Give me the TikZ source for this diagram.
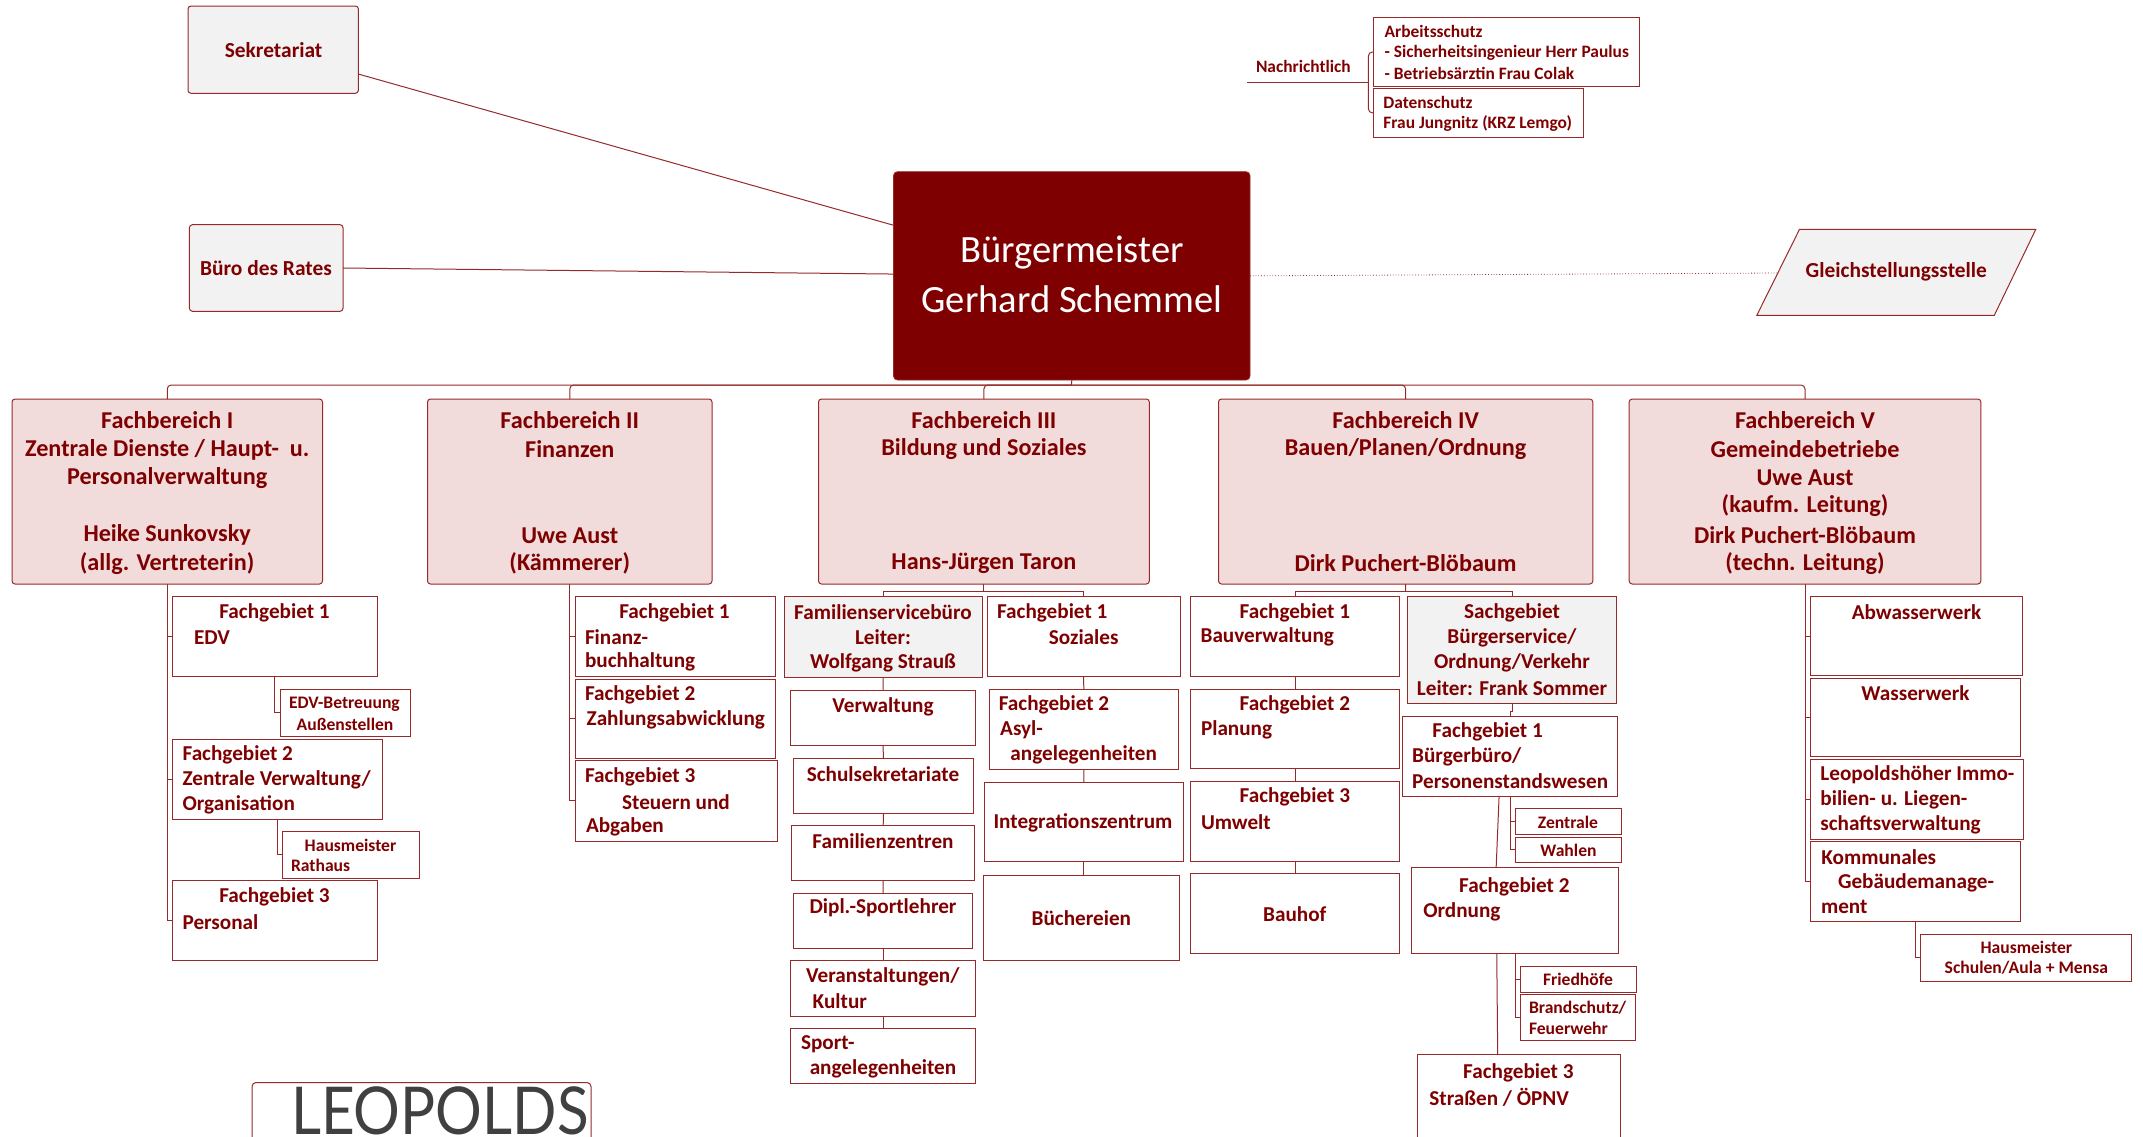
\documentclass[tikz,border=0pt]{standalone}
\usepackage{fontspec}
\setmainfont{Carlito}
\newfontfamily\logofont{Lato}
\usetikzlibrary{shapes.geometric,calc}
\definecolor{dred}{HTML}{7F0000}
\definecolor{edge}{HTML}{962A2A}
\definecolor{pinkfill}{HTML}{F2DCDB}
\definecolor{grayfill}{HTML}{F2F2F2}
\newlength\bw \newlength\bh \newlength\tdx \newlength\tdy
\newcommand{\bx}[7]{%
  \def\bxa{#3}\def\bxb{#6}%
  \pgfmathsetlength\bw{(#5-#3)*0.5pt}\pgfmathsetlength\bh{(#6-#4)*0.5pt}%
  \node[#1,anchor=north west,inner sep=0pt,outer sep=0pt] (#2) at (#3,#4)
    {\hbox to \bw{\vrule width 0pt height \bh\relax #7\hss}};}
\newcommand{\atc}[3]{\pgfmathsetlength\tdx{(#1-\bxa)*0.5pt}\pgfmathsetlength\tdy{(\bxb-#2)*0.5pt}%
  \rlap{\hspace*{\tdx}\raisebox{\tdy}[0pt][0pt]{\makebox[0pt][c]{#3}}}}
\newcommand{\atl}[3]{\pgfmathsetlength\tdx{(#1-\bxa)*0.5pt}\pgfmathsetlength\tdy{(\bxb-#2)*0.5pt}%
  \rlap{\hspace*{\tdx}\raisebox{\tdy}[0pt][0pt]{#3}}}
\tikzset{
  x=0.5pt,y=-0.5pt,
  boxbase/.style={draw=edge,line width=0.5pt,text=dred},
  fbbox/.style={boxbase,fill=pinkfill,rounded corners=1.5pt,font=\fontsize{12.1}{14}\selectfont\bfseries},
  fgbox/.style={boxbase,fill=white,font=\fontsize{10.6}{13}\selectfont\bfseries},
  graybox/.style={boxbase,fill=grayfill,font=\fontsize{10.6}{13}\selectfont\bfseries},
  smallbox/.style={boxbase,fill=white,font=\fontsize{8.8}{11}\selectfont\bfseries},
  notebox/.style={boxbase,fill=white,font=\fontsize{8.7}{11}\selectfont\bfseries},
  topbox/.style={boxbase,fill=grayfill,rounded corners=1.5pt,font=\fontsize{10.7}{12}\selectfont\bfseries},
  chief/.style={draw=edge,fill=dred,rounded corners=2pt,text=white,font=\fontsize{19.3}{22}\selectfont},
  conn/.style={draw=edge,line width=0.5pt},
  thinconn/.style={draw=edge,line width=0.4pt,densely dotted},
  roundconn/.style={conn,rounded corners=2pt},
}
\begin{document}
\begin{tikzpicture}
\useasboundingbox (0,0) rectangle (2143,1136);
\clip (0,0) rectangle (2143,1136);
% top
\bx{chief}{bgm}{893.5}{171.7}{1250}{380}{\atc{1072}{262.5}{Bürgermeister}\atc{1072}{312.5}{Gerhard Schemmel}}
\bx{topbox}{sek}{188}{6}{358.4}{93.3}{\atc{273.6}{57}{Sekretariat}}
\bx{topbox}{bur}{189.4}{224.7}{343}{311.3}{\atc{266}{275.7}{Büro des Rates}}
\coordinate (gtl) at (1799.5,229.3);
\coordinate (gtr) at (2035.8,229.3);
\coordinate (gbr) at (1994.3,315.3);
\coordinate (gbl) at (1756.8,315.3);
\coordinate (gleft) at (1777,273);
\draw[boxbase,fill=grayfill] (gtl) -- (gtr) -- (gbr) -- (gbl) -- cycle;
\node[text=dred,anchor=base,inner sep=0pt,font=\fontsize{10.7}{12}\selectfont\bfseries] (gle) at (1896.3,277.5) {Gleichstellungsstelle};
\node[text=dred,anchor=base,inner sep=0pt,font=\fontsize{8.7}{11}\selectfont\bfseries] (nach) at (1303.4,72.7) {Nachrichtlich};
\bx{notebox}{arb}{1373.8}{17.3}{1639.6}{86.7}{\atl{1384.6}{37.7}{Arbeitsschutz}\atl{1384.6}{57.7}{- Sicherheitsingenieur Herr Paulus}\atl{1384.6}{79.5}{- Betriebsärztin Frau Colak}}
\bx{notebox}{dat}{1373.8}{88.7}{1583}{137}{\atl{1383.4}{108.8}{Datenschutz}\atl{1383.4}{128.8}{Frau Jungnitz (KRZ Lemgo)}}
\coordinate (nfree) at (1247,82.3);
\coordinate (nj) at (1368.4,82.3);
\draw[conn] (nfree) -- (nj);
\draw[roundconn] (arb.west) -| (nj) |- (dat.west);
\draw[conn] ([yshift=-12.2pt]sek.east) -- ([yshift=25.3pt]bgm.west);
\draw[conn] (bur.east) -- ([yshift=0.9pt]bgm.west);
\draw[thinconn] (bgm.east) -- (gleft);
% Fachbereiche
\bx{fbbox}{fb1}{12}{399}{322.5}{584}{\atc{167.2}{428.7}{Fachbereich I}\atc{167.2}{456.7}{Zentrale Dienste / Haupt-~~u.}\atc{167.2}{484.6}{Personalverwaltung}\atc{167.2}{541.5}{Heike Sunkovsky}\atc{167.2}{570}{(allg. Vertreterin)}}
\bx{fbbox}{fb2}{427.5}{399}{712}{584}{\atc{569.8}{428.7}{Fachbereich II}\atc{569.8}{457}{Finanzen}\atc{569.8}{543}{Uwe Aust}\atc{569.8}{570}{(Kämmerer)}}
\bx{fbbox}{fb3}{818.5}{399}{1149.3}{584}{\atc{983.9}{428.7}{Fachbereich III}\atc{983.9}{455}{Bildung und Soziales}\atc{983.9}{569.5}{Hans-Jürgen Taron}}
\bx{fbbox}{fb4}{1218.5}{399}{1592.8}{584}{\atc{1405.6}{428.7}{Fachbereich IV}\atc{1405.6}{455.7}{Bauen/Planen/Ordnung}\atc{1405.6}{571.4}{Dirk Puchert-Blöbaum}}
\bx{fbbox}{fb5}{1629.2}{399}{1980.8}{584}{\atc{1805}{428.7}{Fachbereich V}\atc{1805}{457}{Gemeindebetriebe}\atc{1805}{485.6}{Uwe Aust}\atc{1805}{512.6}{(kaufm. Leitung)}\atc{1805}{543}{Dirk Puchert-Blöbaum}\atc{1805}{570}{(techn. Leitung)}}
\coordinate (bus) at (1071.7,385);
\draw[conn] (bgm.south) -- (bus);
\draw[roundconn] (bus) -| (fb1.north);
\draw[roundconn] (bus) -| (fb2.north);
\draw[roundconn] (bus) -| (fb3.north);
\draw[roundconn] (bus) -| (fb4.north);
\draw[roundconn] (bus) -| (fb5.north);
% FB I
\bx{fgbox}{a1}{172}{596.5}{377}{676.5}{\atc{274.5}{618}{Fachgebiet 1}\atl{194}{644.7}{EDV}}
\bx{smallbox}{a1s}{280}{689.5}{410}{736}{\atc{344.4}{708}{EDV-Betreuung}\atc{345}{730}{Außenstellen}}
\bx{fgbox}{a2}{172}{739}{382}{819}{\atl{182.6}{760}{Fachgebiet 2}\atl{182.6}{785.5}{Zentrale Verwaltung/}\atl{182.6}{810}{Organisation}}
\bx{smallbox}{a2s}{282}{831}{419.5}{878.5}{\atc{350.5}{851}{Hausmeister}\atl{291}{871.8}{Rathaus}}
\bx{fgbox}{a3}{172}{880.5}{377}{960.5}{\atc{274.5}{902}{Fachgebiet 3}\atl{182.6}{929}{Personal}}
\draw[conn] (fb1.south) |- (a3.west);
\draw[conn] (fb1.south |- a1.west) -- (a1.west);
\draw[conn] (fb1.south |- a2.west) -- (a2.west);
\draw[conn] (a1.south) |- (a1s.west);
\draw[conn] (a2.south) |- (a2s.west);
% FB II
\bx{fgbox}{b1}{575}{596.5}{775.5}{676.5}{\atc{674.5}{618}{Fachgebiet 1}\atl{585}{644.7}{Finanz-}\atl{585}{667.9}{buchhaltung}}
\bx{fgbox}{b2}{575}{679}{775.5}{758.5}{\atl{585}{700.6}{Fachgebiet 2}\atl{586.7}{725}{Zahlungsabwicklung}}
\bx{fgbox}{b3}{575}{760.5}{777}{841}{\atl{585}{782}{Fachgebiet 3}\atc{676}{809}{Steuern und}\atl{586}{832}{Abgaben}}
\draw[conn] (fb2.south) |- (b3.west);
\draw[conn] (fb2.south |- b1.west) -- (b1.west);
\draw[conn] (fb2.south |- b2.west) -- (b2.west);
% FB III left
\bx{graybox}{c0}{784.5}{596.5}{982}{677.5}{\atc{883}{619.6}{Familienservicebüro}\atc{883}{644.7}{Leiter:}\atc{883}{668.3}{Wolfgang Strauß}}
\bx{fgbox}{c1}{790.4}{690.5}{975.6}{745}{\atc{883}{712.2}{Verwaltung}}
\bx{fgbox}{c2}{793.5}{758}{973.4}{813}{\atc{883}{781}{Schulsekretariate}}
\bx{fgbox}{c3}{791.7}{825.5}{974.7}{880.5}{\atc{883}{848.7}{Familienzentren}}
\bx{fgbox}{c4}{793.5}{893}{972.5}{948}{\atc{883}{913.7}{Dipl.-Sportlehrer}}
\bx{fgbox}{c5}{790.4}{960.5}{975.6}{1016}{\atc{882.8}{982.7}{Veranstaltungen/}\atl{812.7}{1008.7}{Kultur}}
\bx{fgbox}{c6}{790.4}{1028.5}{975.6}{1083.5}{\atl{801}{1049.7}{Sport-}\atc{883}{1074.8}{angelegenheiten}}
\coordinate (b3j) at (983.9,591.7);
\draw[conn] (fb3.south) -- (b3j);
\draw[conn] (c0.south) -- (c1.north);
\draw[conn] (c1.south) -- (c2.north);
\draw[conn] (c2.south) -- (c3.north);
\draw[conn] (c3.south) -- (c4.north);
\draw[conn] (c4.south) -- (c5.north);
\draw[conn] (c5.south) -- (c6.north);
% FB III right
\bx{fgbox}{d1}{987}{596.5}{1180}{676.5}{\atl{997}{618}{Fachgebiet 1}\atc{1083.7}{644.7}{Soziales}}
\bx{fgbox}{d2}{989}{689}{1178.7}{769}{\atl{998.8}{710.3}{Fachgebiet 2}\atl{1000.2}{735.3}{Asyl-}\atc{1083.7}{760.4}{angelegenheiten}}
\bx{fgbox}{d3}{984.5}{782}{1183}{861}{\atc{1083}{828}{Integrationszentrum}}
\bx{fgbox}{d4}{983}{875.7}{1179.6}{960.5}{\atc{1081.4}{925.3}{Büchereien}}
\draw[conn] (b3j) -| (c0.north);
\draw[conn] (b3j) -| (d1.north);
\draw[conn] (d1.south) -- (d2.north);
\draw[conn] (d2.south) -- (d3.north);
\draw[conn] (d3.south) -- (d3.south |- d4.north);
% FB IV left
\bx{fgbox}{e1}{1190.4}{596.5}{1399.7}{676.5}{\atc{1294.8}{618}{Fachgebiet 1}\atl{1200.6}{642.8}{Bauverwaltung}}
\bx{fgbox}{e2}{1190.4}{689}{1399.7}{768.6}{\atc{1294.8}{710.3}{Fachgebiet 2}\atl{1201}{735.3}{Planung}}
\bx{fgbox}{e3}{1190.4}{781.6}{1399.7}{861}{\atc{1294.8}{802.9}{Fachgebiet 3}\atl{1201}{829.4}{Umwelt}}
\bx{fgbox}{e4}{1190.4}{873.7}{1399.7}{953.3}{\atc{1294.8}{921.5}{Bauhof}}
\coordinate (b4j) at (1405.6,591.7);
\draw[conn] (fb4.south) -- (b4j);
\draw[conn] (e1.south) -- (e2.north);
\draw[conn] (e2.south) -- (e3.north);
\draw[conn] (e3.south) -- (e4.north);
% FB IV right
\bx{graybox}{f0}{1407.7}{596.5}{1616.6}{703}{\atc{1512}{618.7}{Sachgebiet}\atc{1512}{643.7}{Bürgerservice/}\atc{1512}{668.8}{Ordnung/Verkehr}\atc{1512}{695.3}{Leiter: Frank Sommer}}
\bx{fgbox}{f1}{1402.6}{716}{1617.6}{796}{\atc{1487.6}{737.3}{Fachgebiet 1}\atl{1412.2}{762.4}{Bürgerbüro/}\atl{1412.2}{788.9}{Personenstandswesen}}
\bx{smallbox}{f1a}{1515}{808.6}{1621.6}{834.7}{\atc{1568}{828.4}{Zentrale}}
\bx{smallbox}{f1b}{1515}{837}{1621.6}{862.7}{\atc{1568.5}{856.4}{Wahlen}}
\bx{fgbox}{f2}{1411.7}{867.5}{1618.6}{953.3}{\atc{1514.4}{892}{Fachgebiet 2}\atl{1423.3}{917}{Ordnung}}
\bx{smallbox}{f2a}{1520.5}{966.3}{1636.3}{992}{\atc{1578}{985.6}{Friedhöfe}}
\bx{smallbox}{f2b}{1520.5}{994}{1635.3}{1040.5}{\atl{1529}{1013}{Brandschutz/}\atl{1529}{1034.8}{Feuerwehr}}
\bx{fgbox}{f3}{1417.8}{1054.5}{1620.6}{1160}{\atc{1518.4}{1078.7}{Fachgebiet 3}\atl{1429.4}{1105.2}{Straßen / ÖPNV}}
\draw[conn] (b4j) -| (e1.north);
\draw[conn] (b4j) -| (f0.north);
\draw[conn] (f0.south) -- ++(0,8) -| (f1.north);
\draw[conn] (f1.south) |- (f1a.west);
\draw[conn] (f1.south) |- (f1b.west);
\draw[conn] ([xshift=-5.5pt]f1.south) -- ([xshift=-9.5pt]f2.north);
\draw[conn] (f2.south) |- (f2a.west);
\draw[conn] (f2.south) |- (f2b.west);
\draw[conn] ([xshift=-9.2pt]f2.south) -- ([xshift=-10.75pt]f3.north);
% FB V
\bx{fgbox}{g1}{1810.3}{596.5}{2022.7}{675.6}{\atc{1916.5}{619.6}{Abwasserwerk}}
\bx{fgbox}{g2}{1810.3}{678}{2020.7}{756.6}{\atc{1915.5}{700.6}{Wasserwerk}}
\bx{fgbox}{g3}{1810.3}{759.5}{2023.3}{839}{\atl{1820.4}{780.7}{Leopoldshöher Immo-}\atl{1820.4}{805.3}{bilien- u. Liegen-}\atl{1820.4}{830.3}{schaftsverwaltung}}
\bx{fgbox}{g4}{1810.3}{841.4}{2020.7}{921.5}{\atl{1821.4}{864.6}{Kommunales}\atl{1838}{888.2}{Gebäudemanage-}\atl{1821}{913.3}{ment}}
\bx{smallbox}{g4s}{1920.6}{934.5}{2131.5}{981}{\atc{2026.3}{953.3}{Hausmeister}\atc{2026.3}{973.5}{Schulen/Aula + Mensa}}
\draw[conn] (fb5.south) |- (g4.west);
\draw[conn] (fb5.south |- g1.west) -- (g1.west);
\draw[conn] (fb5.south |- g2.west) -- (g2.west);
\draw[conn] (fb5.south |- g3.west) -- (g3.west);
\draw[conn] (g4.south) |- (g4s.west);
% logo
\bx{boxbase,fill=white,rounded corners=2pt,font=\fontsize{33}{36}\selectfont\logofont,text=black!75}{logo}{252}{1082.5}{591}{1200}{\atl{291}{1134}{\scalebox{0.885}[1]{LEOPOLDS}}}
\end{tikzpicture}
\end{document}
